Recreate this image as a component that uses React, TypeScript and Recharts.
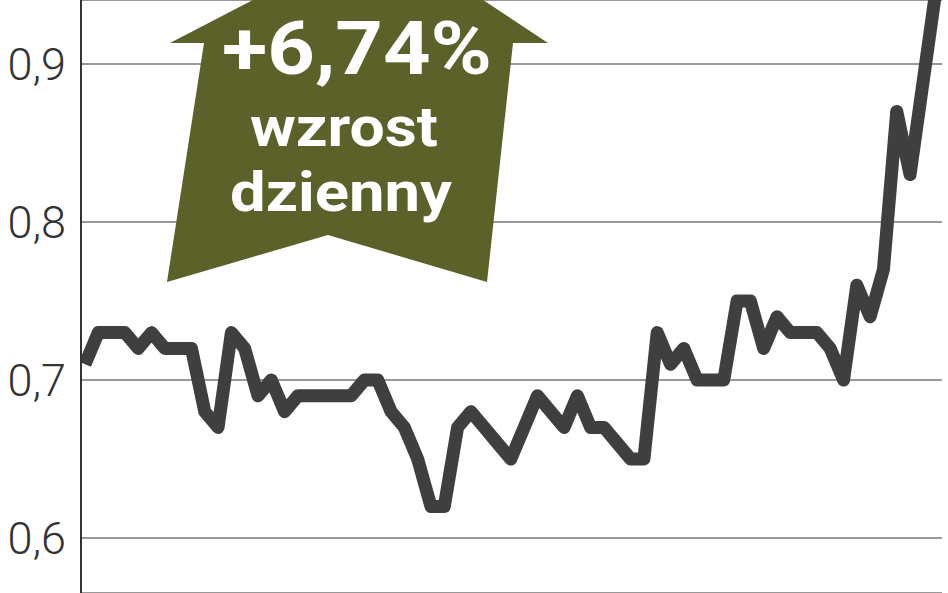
import React from 'react';
import { LineChart, Line, XAxis, YAxis, CartesianGrid } from 'recharts';

// daily closing prices (PLN)
const prices = [
  0.71, 0.73, 0.73, 0.73, 0.72, 0.73, 0.72, 0.72, 0.72, 0.68,
  0.67, 0.73, 0.72, 0.69, 0.70, 0.68, 0.69, 0.69, 0.69, 0.69,
  0.69, 0.70, 0.70, 0.68, 0.67, 0.65, 0.62, 0.62, 0.67, 0.68,
  0.67, 0.66, 0.65, 0.67, 0.69, 0.68, 0.67, 0.69, 0.67, 0.67,
  0.66, 0.65, 0.65, 0.73, 0.71, 0.72, 0.70, 0.70, 0.70, 0.75,
  0.75, 0.72, 0.74, 0.73, 0.73, 0.73, 0.72, 0.70, 0.76, 0.74,
  0.77, 0.87, 0.83, 0.89, 0.95,
];
const yTicks = [0.6, 0.7, 0.8, 0.9];
const badgeLines = ['+6,74%', 'wzrost', 'dzienny'];

const data = prices.map((price, day) => ({ day, price }));

const W = 948;
const H = 593;

function YTick(props: any) {
  const { y, payload } = props;
  return (
    <text
      x={66}
      y={y + 16}
      textAnchor="end"
      fontSize={45}
      fontFamily="Roboto, 'DejaVu Sans', sans-serif"
      fontWeight={300}
      fill="#333"
    >
      {String(payload.value).replace('.', ',')}
    </text>
  );
}

function Badge() {
  const shape = '170,43 382,-67 548,43 513,43 487,282 328,235 167,282 204,43';
  const font = "'Liberation Sans Narrow', Roboto, 'DejaVu Sans', sans-serif";
  return (
    <svg width={W} height={H} style={{ position: 'absolute', left: 0, top: 0, pointerEvents: 'none' }}>
      <polygon points={shape} fill="#5b6128" />
      <text x={357} y={74} textAnchor="middle" fontSize={74} fontWeight={700} fontFamily={font} fill="#fff"
        textLength={270} lengthAdjust="spacingAndGlyphs">{badgeLines[0]}</text>
      <text x={344} y={146} textAnchor="middle" fontSize={56} fontWeight={700} fontFamily={font} fill="#fff"
        textLength={188} lengthAdjust="spacingAndGlyphs">{badgeLines[1]}</text>
      <text x={341} y={211} textAnchor="middle" fontSize={56} fontWeight={700} fontFamily={font} fill="#fff"
        textLength={222} lengthAdjust="spacingAndGlyphs">{badgeLines[2]}</text>
    </svg>
  );
}

export default function App() {
  return (
    <div style={{ position: 'absolute', left: 0, top: 0, width: W, height: H, background: '#fff' }}>
      <LineChart width={W} height={H} data={data} margin={{ top: 0, right: 6, bottom: 0, left: 0 }}>
        <CartesianGrid vertical={false} stroke="#999" strokeWidth={2} />
        <XAxis dataKey="day" type="number" domain={[-0.3, 64.4]} hide allowDataOverflow />
        <YAxis
          width={81}
          domain={[0.5652, 0.9405]}
          ticks={yTicks}
          allowDataOverflow
          axisLine={{ stroke: '#333', strokeWidth: 2 }}
          tickLine={false}
          tick={<YTick />}
        />
        <Line
          type="linear"
          dataKey="price"
          stroke="#3f3f3f"
          strokeWidth={13}
          strokeLinejoin="round"
          dot={false}
          isAnimationActive={false}
        />
      </LineChart>
      <Badge />
    </div>
  );
}
